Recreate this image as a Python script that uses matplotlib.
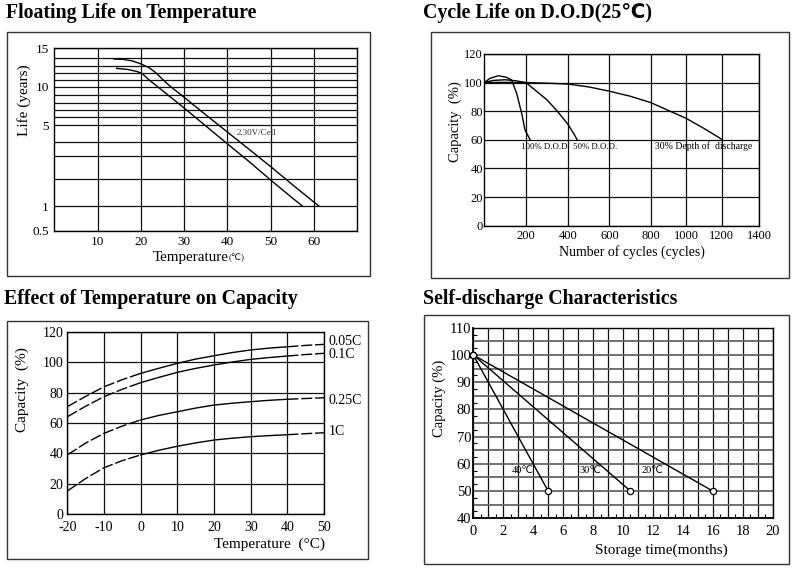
import numpy as np
import matplotlib
matplotlib.use("Agg")
import matplotlib.pyplot as plt
from matplotlib.patches import Rectangle

plt.rcParams['font.family'] = ['Liberation Serif', 'DejaVu Sans']
plt.rcParams['axes.unicode_minus'] = False

# ----------------- DATA -----------------
# floating life on temperature (two boundary curves of the band)
life_temp_upper = [13.8, 16, 18, 20, 22, 23.6, 25, 26.7, 30, 35, 40, 45, 50, 55, 61.1]
life_years_upper = [13.9, 13.85, 13.65, 13.25, 12.7, 12.0, 11.1, 10.1, 8.7, 6.35, 4.6, 3.5, 2.55, 1.8, 1.0]
life_temp_lower = [14.4, 17, 19, 20, 20.5, 22, 23.3, 26.7, 30, 35, 40, 45, 50, 55, 57.3]
life_years_lower = [12.65, 12.5, 12.25, 12.05, 11.85, 10.95, 10.3, 8.8, 7.3, 4.96, 3.89, 2.77, 1.97, 1.3, 1.0]
life_xticks = [10, 20, 30, 40, 50, 60]
life_ylabels = [0.5, 1, 5, 10, 15]
life_ygrid = [2, 3, 4, 6, 7, 8, 9, 11, 12, 13, 14]
# the printed life axis is not linear: value -> height of its grid line
life_scale_vals = [0.5, 1, 2, 3, 4, 5, 6, 7, 8, 9, 10, 11, 12, 13, 14, 15]
life_scale_pos = [0, 24.7, 51.4, 74.4, 88.4, 105.4, 113.4, 120.4, 128, 135.7, 144, 150.7, 157.4, 165, 172.4, 182.4]

# cycle life on D.O.D
cycles_100 = [0, 27, 67, 107, 131, 155, 179, 195, 220]
cap_100 = [100, 103, 104.8, 103.7, 101.8, 92.5, 78.6, 66.9, 60]
cycles_50 = [0, 40, 100, 150, 200, 250, 300, 350, 400, 430, 445]
cap_50 = [100, 101.5, 102, 101.3, 100, 94, 88, 80, 71, 64, 60]
cycles_30 = [0, 100, 200, 300, 400, 500, 600, 700, 800, 900, 1000, 1100, 1200]
cap_30 = [100, 100.2, 100, 99.6, 99, 97, 94, 90.5, 86, 80.5, 75, 68, 60.5]
cycle_xticks = [200, 400, 600, 800, 1000, 1200, 1400]
cycle_yticks = [0, 20, 40, 60, 80, 100, 120]
# printed cycle axis is uneven as well
cycle_scale_vals = [0, 200, 400, 600, 800, 1000, 1200, 1400]
cycle_scale_pos = [0, 41.7, 83.4, 125, 166.4, 201.7, 237, 274.4]

# effect of temperature on capacity
temp_c = [-20, -15, -10, -5, 0, 5, 10, 15, 20, 25, 30, 35, 40, 45, 50]
cap_005c = [70.7, 77.5, 83.8, 88.5, 92.6, 96, 99.2, 102, 104.2, 106.3, 108, 109.2, 110.1, 111, 111.7]
cap_01c = [64.1, 71, 77.3, 82.2, 86.5, 90, 93.3, 95.9, 98.1, 100.1, 101.8, 103, 104, 105, 105.8]
cap_025c = [39, 46.8, 53.2, 58, 62, 65, 67.4, 69.8, 71.8, 73, 74, 74.9, 75.6, 76.1, 76.6]
cap_1c = [15.3, 23.5, 30.6, 35.3, 39, 42.1, 44.7, 46.9, 48.8, 50, 51, 51.7, 52.3, 53, 53.6]
rate_names = ['0.05C', '0.1C', '0.25C', '1C']
rate_label_y = [113.4, 105.2, 75.1, 54.3]
temp_xticks = [-20, -10, 0, 10, 20, 30, 40, 50]
temp_yticks = [0, 20, 40, 60, 80, 100, 120]

# self-discharge
sd_months = {'40℃': [0, 5.0], '30℃': [0, 10.5], '20℃': [0, 16.0]}
sd_cap = [100, 50]
sd_label_x = [3.29, 7.85, 11.97]
sd_label_y = 57.5

# ----------------- LAYOUT HELPERS -----------------
W, H = 793, 571
fig = plt.figure(figsize=(W / 100, H / 100), dpi=100)


def add_panel(left, top, right, bottom):
    return fig.add_axes([left / W, 1 - bottom / H, (right - left) / W, (bottom - top) / H])


def frame(left, top, right, bottom):
    fig.add_artist(Rectangle((left / W, 1 - bottom / H), (right - left) / W, (bottom - top) / H,
                             transform=fig.transFigure, fill=False, lw=1.0, ec='#333333'))


def label(x, y, s, **kw):
    kw.setdefault('ha', 'center')
    fig.text(x / W, 1 - y / H, s, va='center', **kw)


def style(ax, padx, pady, size=9.5):
    for sp in ax.spines.values():
        sp.set_color('black')
        sp.set_linewidth(1.0)
    ax.tick_params(which='both', length=0, labelsize=size)
    ax.tick_params(axis='x', pad=padx)
    ax.tick_params(axis='y', pad=pady)


# ----------------- FLOATING LIFE -----------------
label(6, 13, 'Floating Life on Temperature', ha='left', fontsize=14.3, fontweight='bold')
frame(7, 32, 370, 276)
ax1 = add_panel(54.3, 48.3, 357.3, 230.7)
ax1.set_yscale('function', functions=(lambda v: np.interp(v, life_scale_vals, life_scale_pos),
                                      lambda p: np.interp(p, life_scale_pos, life_scale_vals)))
ax1.set_xlim(0, 70)
ax1.set_ylim(0.5, 15)
ax1.set_xticks(life_xticks)
ax1.set_xticklabels([str(t) for t in life_xticks])
ax1.set_yticks(life_ylabels)
ax1.set_yticklabels(['0.5', '1', '5', '10', '15'])
ax1.set_yticks(life_ygrid, minor=True)
ax1.tick_params(which='minor', labelleft=False)
ax1.set_xticks([], minor=True)
ax1.grid(True, which='both', color='#111111', lw=0.9)
style(ax1, 4.0, 4.0)
ax1.plot(life_temp_upper, life_years_upper, color='black', lw=1.0)
ax1.plot(life_temp_lower, life_years_lower, color='black', lw=1.0)
ax1.text(42.2, 4.56, '2.30V/Cell', fontsize=6.5, va='center', ha='left', color='#333333')
label(24, 100, 'Life (years)', rotation=90, fontsize=11)
label(191, 257, 'Temperature', fontsize=10.8)
label(229, 258, '(℃)', ha='left', fontsize=6.5)

# ----------------- CYCLE LIFE -----------------
label(422.7, 13.3, 'Cycle Life on D.O.D(25℃)', ha='left', fontsize=14.3, fontweight='bold')
frame(430.7, 32.3, 789.3, 278.3)
ax2 = add_panel(484.3, 54, 759, 225.7)
ax2.set_xscale('function', functions=(lambda v: np.interp(v, cycle_scale_vals, cycle_scale_pos),
                                      lambda p: np.interp(p, cycle_scale_pos, cycle_scale_vals)))
ax2.set_xlim(0, 1400)
ax2.set_ylim(0, 120)
ax2.set_xticks(cycle_xticks)
ax2.set_xticklabels([str(t) for t in cycle_xticks])
ax2.set_xticks([], minor=True)
ax2.set_yticks(cycle_yticks)
ax2.grid(True, color='#111111', lw=0.9)
style(ax2, 3.0, 1.0, size=9)
for xs, ys in [(cycles_100, cap_100), (cycles_50, cap_50), (cycles_30, cap_30)]:
    ax2.plot(xs, ys, color='black', lw=1.0)
ax2.text(175, 55.2, '100% D.O.D.', fontsize=6.3, va='center', ha='left')
ax2.text(424, 55.2, '50% D.O.D.', fontsize=6.3, va='center', ha='left')
ax2.text(824, 55.9, '30% Depth of  discharge', fontsize=7.0, va='center', ha='left')
label(455, 121.7, 'Capacity  (%)', rotation=90, fontsize=10.5)
label(632, 252.3, 'Number of cycles (cycles)', fontsize=10)

# ----------------- TEMPERATURE vs CAPACITY -----------------
label(4, 299, 'Effect of Temperature on Capacity', ha='left', fontsize=14.3, fontweight='bold')
frame(7.3, 320.7, 368.3, 559.3)
ax3 = add_panel(67.3, 331.7, 324, 514.3)
ax3.set_xlim(-20, 50)
ax3.set_ylim(0, 120)
ax3.set_xticks(temp_xticks)
ax3.set_xticklabels([str(t) for t in temp_xticks])
ax3.set_yticks(temp_yticks)
ax3.grid(True, color='#111111', lw=0.9)
style(ax3, 5.0, 3.0, size=10)
i0, i40 = temp_c.index(0), temp_c.index(40)
for ys, name, ly in zip([cap_005c, cap_01c, cap_025c, cap_1c], rate_names, rate_label_y):
    ax3.plot(temp_c[:i0 + 1], ys[:i0 + 1], color='black', lw=1.0, ls=(0, (8, 2)))
    ax3.plot(temp_c[i0:i40 + 1], ys[i0:i40 + 1], color='black', lw=1.0)
    ax3.plot(temp_c[i40:], ys[i40:], color='black', lw=1.0, ls=(0, (8, 2)))
    ax3.text(51.2, ly, name, fontsize=10, va='center', ha='left', clip_on=False)
label(22.7, 390, 'Capacity  (%)', rotation=90, fontsize=11)
label(269, 544.3, 'Temperature  (°C)', fontsize=11)

# ----------------- SELF-DISCHARGE -----------------
label(422.7, 299, 'Self-discharge Characteristics', ha='left', fontsize=14.3, fontweight='bold')
frame(424, 315, 788.7, 564.3)
ax4 = add_panel(473.3, 327.7, 772.7, 518.3)
ax4.set_xlim(0, 20)
ax4.set_ylim(40, 110)
ax4.set_xticks(np.arange(0, 21, 2))
ax4.set_xticks(np.arange(1, 20, 2), minor=True)
ax4.set_yticks(np.arange(40, 111, 10))
ax4.set_yticks(np.arange(45, 110, 10), minor=True)
ax4.grid(True, axis='x', which='both', color='#111111', lw=0.9)
ax4.grid(True, axis='y', which='both', color='#666666', lw=1.3)
style(ax4, 4.5, 1.5, size=10.5)
ax4.spines['left'].set_linewidth(1.3)
ax4.spines['bottom'].set_linewidth(1.3)
# small inward ticks halfway between grid lines
axt = fig.add_axes(ax4.get_position(), frameon=False)
axt.set_xlim(0, 20)
axt.set_ylim(40, 110)
axt.set_xticks(np.arange(0.5, 20, 1))
axt.set_yticks(np.arange(42.5, 110, 5))
axt.tick_params(direction='in', length=3, width=0.8, labelbottom=False, labelleft=False)
for (name, xs), lx in zip(sd_months.items(), sd_label_x):
    ax4.plot(xs, sd_cap, color='black', lw=1.0, marker='o', ms=4.5, mfc='white', mec='black',
             mew=0.9, clip_on=False, zorder=3)
    ax4.text(lx, sd_label_y, name, fontsize=7.5, ha='center', va='center')
label(439.3, 398.3, 'Capacity (%)', rotation=90, fontsize=10.5)
label(661, 550, 'Storage time(months)', fontsize=11)

fig.savefig('out.png', dpi=100)
